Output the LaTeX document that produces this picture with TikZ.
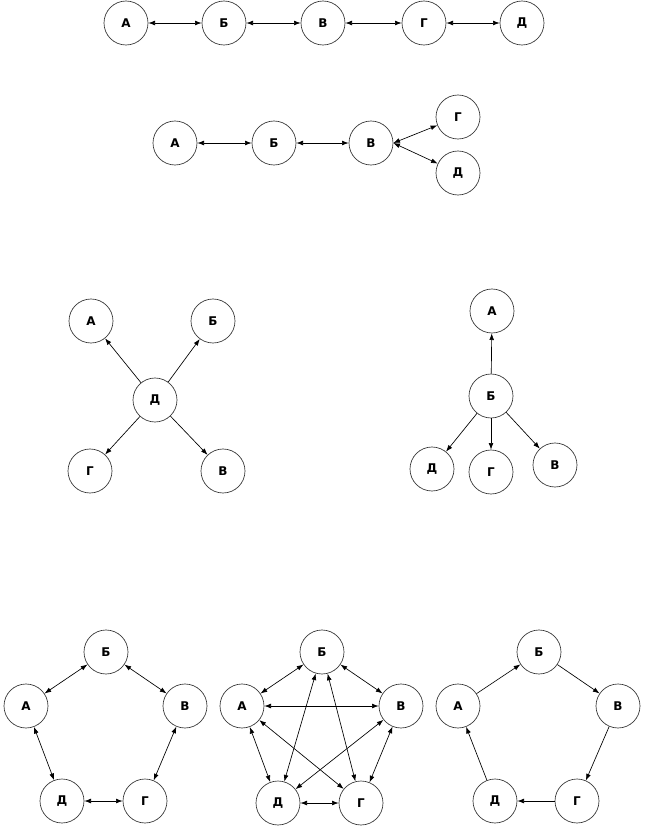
\documentclass[tikz,border=0pt]{standalone}
\usepackage{fontspec}
\newfontfamily\verfont{DejaVu Sans}
\usetikzlibrary{arrows.meta}

\begin{document}
\begin{tikzpicture}[x = 0.75pt, y = -0.75pt,
  ver/.style = {circle, draw = black!80, line width = 0.5pt, minimum size = 33pt, inner sep = 0pt, font = \verfont\bfseries\fontsize{9}{10}\selectfont},
  both/.style = {{Latex[length = 5pt, width = 3.6pt]}-{Latex[length = 5pt, width = 3.6pt]}, line width = 0.5pt},
  one/.style = {-{Latex[length = 5pt, width = 3.6pt]}, line width = 0.5pt}]

\useasboundingbox (0, 0) rectangle (645, 832);

%%% Chain
\node [ver] (d1a) at (126, 23) {А};
\node [ver] (d1b) at (224, 23) {Б};
\node [ver] (d1v) at (323, 23) {В};
\node [ver] (d1g) at (424, 23) {Г};
\node [ver] (d1d) at (522, 23) {Д};

\draw [both] (d1a) -- (d1b);
\draw [both] (d1b) -- (d1v);
\draw [both] (d1v) -- (d1g);
\draw [both] (d1g) -- (d1d);

%%% Chain with fork
\node [ver] (d2a) at (175, 143) {А};
\node [ver] (d2b) at (274, 143) {Б};
\node [ver] (d2v) at (371, 143) {В};
\node [ver] (d2g) at (458, 117) {Г};
\node [ver] (d2d) at (458, 173) {Д};

\draw [both] (d2a) -- (d2b);
\draw [both] (d2b) -- (d2v);
\draw [both] (d2v.east) -- (d2g);
\draw [both] (d2v.east) -- (d2d);

%%% Star
\node [ver] (d3a) at (91, 321) {А};
\node [ver] (d3b) at (213, 321) {Б};
\node [ver] (d3d) at (155, 400) {Д};
\node [ver] (d3g) at (90, 471) {Г};
\node [ver] (d3v) at (223, 471) {В};

\draw [one] (d3d) -- (d3a);
\draw [one] (d3d) -- (d3b);
\draw [one] (d3d) -- (d3g);
\draw [one] (d3d) -- (d3v);

%%% Tree
\node [ver] (d4a) at (492, 311) {А};
\node [ver] (d4b) at (491, 396) {Б};
\node [ver] (d4d) at (432, 469) {Д};
\node [ver] (d4g) at (491, 472) {Г};
\node [ver] (d4v) at (555, 465) {В};

\draw [one] (d4b) -- (d4a);
\draw [one] (d4b) -- (d4d);
\draw [one] (d4b) -- (d4g);
\draw [one] (d4b) -- (d4v);

%%% Ring
\node [ver] (d5b) at (106, 652) {Б};
\node [ver] (d5a) at (26, 706) {А};
\node [ver] (d5v) at (185, 706) {В};
\node [ver] (d5d) at (62, 801) {Д};
\node [ver] (d5g) at (145, 801) {Г};

\draw [both] (d5a) -- (d5b);
\draw [both] (d5b) -- (d5v);
\draw [both] (d5v) -- (d5g);
\draw [both] (d5g) -- (d5d);
\draw [both] (d5d) -- (d5a);

%%% Full mesh
\node [ver] (d6b) at (322, 652) {Б};
\node [ver] (d6a) at (242, 706) {А};
\node [ver] (d6v) at (401, 706) {В};
\node [ver] (d6d) at (278, 803) {Д};
\node [ver] (d6g) at (361, 803) {Г};

\draw [both] (d6a) -- (d6b);
\draw [both] (d6b) -- (d6v);
\draw [both] (d6v) -- (d6g);
\draw [both] (d6g) -- (d6d);
\draw [both] (d6d) -- (d6a);
\draw [both] (d6a) -- (d6v);
\draw [both] (d6a) -- (d6g);
\draw [both] (d6b) -- (d6d);
\draw [both] (d6b) -- (d6g);
\draw [both] (d6v) -- (d6d);

%%% Directed ring
\node [ver] (d7b) at (539, 652) {Б};
\node [ver] (d7a) at (458, 706) {А};
\node [ver] (d7v) at (618, 706) {В};
\node [ver] (d7d) at (495, 801) {Д};
\node [ver] (d7g) at (577, 801) {Г};

\draw [one] (d7a) -- (d7b);
\draw [one] (d7b) -- (d7v);
\draw [one] (d7v) -- (d7g);
\draw [one] (d7g) -- (d7d);
\draw [one] (d7d) -- (d7a);

\end{tikzpicture}
\end{document}
